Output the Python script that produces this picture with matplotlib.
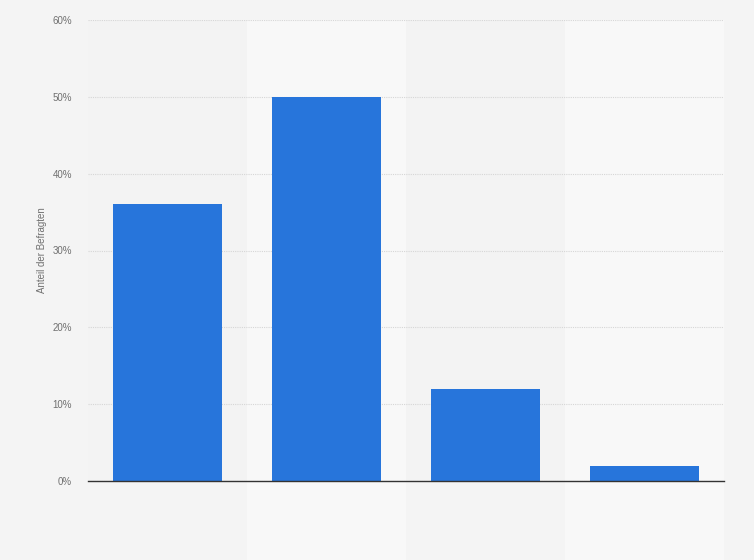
import matplotlib
matplotlib.use("Agg")
from matplotlib import pyplot as plt
from matplotlib.patches import Rectangle
import matplotlib.transforms as mtransforms

plt.rcParams["font.family"] = ["Liberation Sans", "DejaVu Sans"]

# Werte
kategorien = ["A", "B", "C", "D"]
anteile = [36, 50, 12, 2]
y_ticks = [0, 10, 20, 30, 40, 50, 60]
y_labels = ["0%", "10%", "20%", "30%", "40%", "50%", "60%"]

fig = plt.figure(figsize=(7.54, 5.6), dpi=100)
fig.patch.set_facecolor("#f4f4f4")
ax = fig.add_axes([88 / 754, 79 / 560, 636 / 754, 461 / 560])
ax.set_facecolor("#f3f3f3")

x = list(range(len(kategorien)))

# hellere Spalten (2. und 4.)
trans = mtransforms.blended_transform_factory(ax.transData, ax.transAxes)
for i in x:
    if i % 2 == 1:
        ax.add_patch(Rectangle((i - 0.5, -0.2), 1, 1.2, transform=trans,
                               facecolor="#f8f8f8", edgecolor="none",
                               clip_on=False, zorder=0))

ax.bar(x, anteile, width=0.686, color="#2775db", zorder=3)

ax.set_xlim(-0.5, len(kategorien) - 0.5)
ax.set_ylim(0, 60)
ax.set_yticks(y_ticks)
ax.set_yticklabels(y_labels)
ax.set_xticks([])
ax.tick_params(axis="y", length=0, pad=11.5, labelsize=7, labelcolor="#707070")

ax.grid(axis="y", color="#d6d6d6", linestyle=(0, (1, 1)), linewidth=0.8, zorder=1)
ax.set_axisbelow(True)
for s in ["top", "right", "left"]:
    ax.spines[s].set_visible(False)
ax.spines["bottom"].set_color("#333333")
ax.spines["bottom"].set_linewidth(1.0)
ax.spines["bottom"].set_zorder(4)

ax.set_ylabel("Anteil der Befragten", fontsize=7, color="#707070", labelpad=4)

plt.savefig("out.png", dpi=100, facecolor=fig.get_facecolor())
